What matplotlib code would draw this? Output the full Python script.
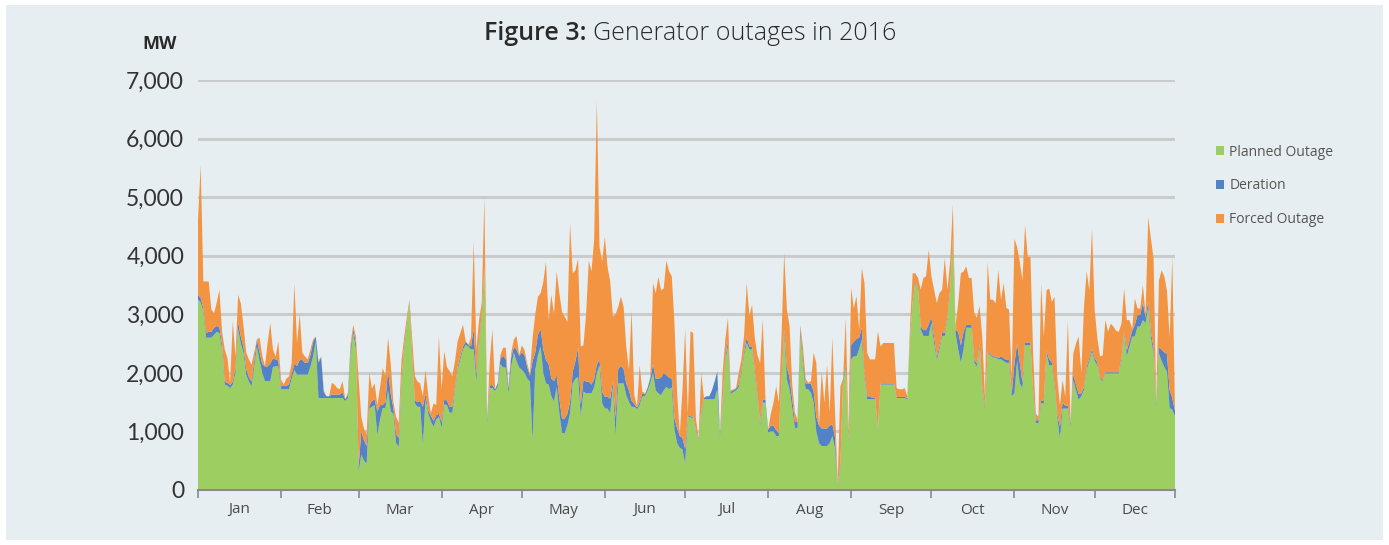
import matplotlib
matplotlib.use("Agg")
import matplotlib.pyplot as plt
from matplotlib.patches import Patch, Rectangle
import numpy as np

# daily values in MW, 2016 (366 days), one row per month
planned = (
    [3250, 3200, 3050, 2600, 2600, 2600, 2650, 2700, 2680, 2400, 1800, 1780, 1740, 1800, 2000, 2740, 2500, 2340, 1970, 1850, 1770, 2100, 2450, 2200, 2000, 1860, 1860, 1860, 2100, 2110, 2110]
    + [1720, 1720, 1720, 1720, 1900, 2050, 1970, 1970, 1970, 1970, 1970, 2100, 2280, 2540, 1570, 1570, 1570, 1570, 1570, 1570, 1570, 1570, 1570, 1570, 1520, 1570, 2300, 2680, 2400]
    + [300, 600, 500, 450, 1390, 1420, 1450, 940, 1200, 1400, 1400, 1700, 1340, 1300, 800, 740, 1820, 2400, 2800, 3210, 2270, 1480, 1420, 1420, 770, 1540, 1310, 1170, 1080, 1200, 1250]
    + [1060, 1460, 1450, 1320, 1320, 1700, 2050, 2230, 2400, 2480, 2450, 2400, 2400, 1860, 2500, 2960, 3760, 1120, 1740, 1740, 1690, 1770, 2150, 2090, 2090, 1650, 2110, 2340, 2200, 2090]
    + [2050, 2000, 1900, 1850, 850, 2050, 2300, 2450, 2000, 1820, 1800, 1600, 1510, 1760, 1310, 970, 970, 1100, 1310, 1820, 1900, 1930, 1250, 1680, 1650, 1650, 1650, 1750, 1990, 2130, 1480]
    + [1390, 1390, 1310, 1760, 940, 1820, 1820, 1820, 1620, 1500, 1420, 1420, 1380, 1450, 1600, 1600, 1700, 1830, 2000, 1700, 1650, 1620, 1700, 1760, 1720, 1750, 1030, 800, 720, 690]
    + [450, 1260, 1240, 1230, 1000, 860, 1300, 1550, 1550, 1550, 1550, 1550, 1720, 900, 1500, 2200, 2450, 1640, 1670, 1700, 1750, 2000, 2300, 2510, 2400, 2400, 2000, 1600, 1090, 1490, 1490]
    + [980, 1000, 1000, 920, 920, 1830, 2650, 1890, 1720, 1400, 1060, 1060, 2680, 2110, 1720, 1720, 1660, 1490, 1000, 800, 750, 750, 750, 800, 920, 700, 70, 410, 1830, 2090, 800]
    + [2230, 2280, 2280, 2400, 2570, 1910, 1550, 1550, 1550, 1550, 1030, 1800, 1800, 1800, 1800, 1800, 1800, 1570, 1570, 1570, 1570, 1550, 2600, 3200, 3530, 3420, 2740, 2630, 2630, 2630]
    + [2850, 2510, 2230, 2400, 2630, 2630, 2910, 3400, 4270, 2680, 2400, 2170, 2400, 2770, 2770, 2770, 2170, 2110, 2430, 1720, 1380, 2340, 2300, 2260, 2260, 2230, 2230, 2200, 2170, 2170, 1600]
    + [1650, 2200, 1820, 1740, 2470, 2470, 2470, 1650, 1140, 1140, 1480, 1480, 2330, 2130, 2130, 1760, 1250, 880, 1390, 1390, 1390, 1080, 1880, 1700, 1540, 1600, 1710, 2050, 2200, 2360]
    + [2200, 2130, 1900, 1850, 1990, 1990, 1990, 1990, 1990, 1990, 2200, 2670, 2280, 2450, 2620, 2620, 2790, 2790, 2900, 2850, 3130, 2600, 2330, 1420, 2330, 2200, 2100, 2020, 1400, 1370, 1260]
)

deration = (
    [80, 80, 50, 80, 100, 100, 120, 100, 100, 80, 50, 50, 50, 50, 80, 120, 120, 100, 100, 80, 80, 100, 120, 150, 150, 250, 250, 300, 150, 120, 100]
    + [50, 60, 60, 80, 80, 100, 150, 250, 250, 200, 200, 200, 250, 80, 600, 700, 100, 30, 30, 60, 60, 60, 60, 100, 30, 50, 100, 80, 100]
    + [100, 400, 350, 300, 50, 100, 100, 400, 250, 50, 100, 350, 300, 100, 150, 150, 50, 50, 30, 20, 50, 50, 80, 100, 650, 100, 50, 100, 100, 80, 50]
    + [100, 80, 80, 100, 100, 50, 50, 50, 50, 50, 30, 50, 350, 100, 50, 50, 50, 80, 50, 50, 30, 50, 100, 200, 150, 80, 150, 100, 200, 200]
    + [300, 300, 200, 100, 1350, 300, 350, 300, 400, 400, 350, 300, 350, 200, 250, 250, 250, 200, 200, 200, 300, 500, 200, 200, 200, 200, 150, 150, 150, 100, 200]
    + [200, 200, 250, 100, 300, 250, 300, 250, 200, 200, 100, 50, 30, 50, 50, 30, 50, 80, 150, 200, 250, 300, 300, 200, 200, 150, 200, 250, 200, 200]
    + [250, 20, 20, 20, 20, 20, 50, 20, 50, 50, 150, 300, 300, 50, 50, 50, 100, 40, 30, 30, 50, 50, 50, 100, 50, 50, 50, 50, 50, 50, 50]
    + [50, 100, 100, 100, 50, 50, 100, 200, 200, 150, 100, 100, 100, 100, 100, 100, 150, 200, 250, 300, 300, 300, 300, 300, 200, 200, 20, 50, 50, 50, 50]
    + [250, 250, 300, 200, 200, 50, 50, 50, 20, 20, 20, 20, 20, 20, 20, 20, 20, 20, 20, 20, 20, 20, 20, 20, 20, 20, 50, 100, 100, 200]
    + [100, 100, 50, 50, 50, 50, 50, 50, 50, 50, 300, 300, 300, 50, 50, 50, 50, 50, 50, 50, 50, 20, 20, 20, 20, 20, 50, 50, 50, 50, 50]
    + [500, 300, 350, 100, 50, 50, 50, 50, 50, 50, 50, 50, 50, 100, 50, 50, 50, 200, 100, 50, 50, 50, 100, 100, 100, 50, 50, 50, 50, 50]
    + [50, 50, 20, 20, 20, 20, 20, 20, 20, 20, 50, 50, 100, 100, 100, 200, 200, 200, 300, 100, 100, 100, 100, 50, 100, 200, 250, 300, 300, 200, 90]
)

forced = (
    [1270, 2270, 460, 880, 860, 380, 250, 400, 640, 220, 550, 420, 40, 1030, 200, 470, 570, 360, 280, 300, 290, 150, 0, 250, 150, 0, 400, 690, 150, 50, 330]
    + [120, 20, 120, 140, 190, 1380, 390, 780, 120, 110, 60, 100, 40, 0, 30, 10, 30, 0, 0, 200, 170, 110, 90, 190, 0, 40, 100, 60, 120]
    + [1500, 250, 200, 200, 560, 210, 270, 110, 300, 630, 450, 550, 520, 100, 300, 260, 330, 150, 120, 20, 280, 420, 350, 300, 180, 410, 260, 40, 300, 170, 1320]
    + [560, 830, 570, 610, 520, 450, 440, 400, 370, 10, 0, 150, 1490, 440, 350, 190, 1190, 0, 410, 950, 0, 10, 60, 140, 190, 20, 80, 130, 230, 20]
    + [120, 90, 60, 40, 400, 650, 650, 610, 1150, 1680, 750, 1430, 1150, 1770, 1800, 1820, 1740, 1570, 3040, 1680, 1550, 1520, 1000, 590, 1160, 2070, 1930, 2370, 4520, 1920, 2220]
    + [2730, 2220, 2000, 1100, 1760, 1060, 1180, 1060, 630, 350, 1550, 150, 10, 630, 30, 20, 0, 20, 1380, 1460, 1740, 1490, 1440, 1960, 1810, 1750, 1620, 610, 30, 830]
    + [2040, 20, 1450, 1430, 210, 0, 650, 10, 0, 0, 0, 0, 10, 0, 450, 320, 390, 20, 20, 10, 200, 180, 280, 920, 520, 710, 550, 650, 1030, 1370, 10]
    + [0, 200, 390, 750, 520, 750, 1300, 990, 880, 250, 160, 40, 40, 240, 80, 10, 50, 650, 920, 0, 980, 440, 1090, 220, 1480, 420, 60, 1310, 20, 800, 150]
    + [970, 570, 730, 140, 1020, 1570, 740, 630, 660, 660, 1660, 630, 690, 690, 690, 690, 690, 150, 130, 130, 150, 30, 180, 480, 150, 180, 630, 890, 920, 1270]
    + [700, 810, 910, 910, 740, 1280, 460, 450, 550, 70, 490, 1230, 1030, 1000, 800, 800, 800, 780, 660, 860, 170, 1540, 930, 970, 910, 1510, 970, 1280, 890, 860, 250]
    + [2140, 1650, 1730, 1740, 2000, 1460, 1460, 630, 110, 60, 2000, 1090, 1030, 1210, 1030, 1490, 630, 370, 390, 160, 1460, 10, 350, 700, 980, 350, 1370, 1630, 1160, 2060]
    + [820, 410, 360, 430, 890, 690, 830, 780, 710, 690, 590, 720, 520, 350, 30, 450, 110, 110, 300, 60, 1430, 1590, 1520, 30, 1150, 1350, 1300, 1080, 900, 2410, 0]
)

months = ['Jan', 'Feb', 'Mar', 'Apr', 'May', 'Jun', 'Jul', 'Aug', 'Sep', 'Oct', 'Nov', 'Dec']
month_start = [0, 31, 60, 91, 121, 152, 182, 213, 244, 274, 305, 335, 365]
series_names = ['Planned Outage', 'Deration', 'Forced Outage']
colors = ['#9dce61', '#5383c6', '#f39442']

days = np.arange(len(planned))

fig = plt.figure(figsize=(13.89, 5.45), dpi=100)
fig.patch.set_facecolor('white')
# light panel behind everything
fig.patches.append(Rectangle((6 / 1389, 5 / 545), 1377 / 1389, 535 / 545,
                             transform=fig.transFigure, facecolor='#e7eef1',
                             edgecolor='none', zorder=-10))

ax = fig.add_axes([198 / 1389, 1 - 490 / 545, 977 / 1389, 410 / 545])
ax.set_facecolor('none')

ax.stackplot(days, planned, deration, forced, colors=colors, linewidth=0, zorder=2)

ax.set_xlim(0, 365)
ax.set_ylim(0, 7000)
ax.set_yticks(range(0, 7001, 1000))
ax.set_yticklabels([f'{v:,}' for v in range(0, 7001, 1000)])
ax.grid(axis='y', color='#c9cbcc', linewidth=2.2, zorder=1)
ax.set_axisbelow(True)

ax.set_xticks(month_start)
ax.set_xticklabels([])
mids = [(month_start[i] + month_start[i + 1]) / 2 for i in range(12)]
ax.set_xticks(mids, minor=True)
ax.set_xticklabels(months, minor=True)
ax.tick_params(axis='x', which='major', length=6, width=1.2, color='#8a8a8a', direction='out')
ax.tick_params(axis='x', which='minor', length=0, pad=9, labelsize=11, labelcolor='#4a4a4a')
ax.tick_params(axis='y', length=0, pad=10, labelsize=16.5, labelcolor='#333333')
for lab in ax.get_xticklabels(minor=True):
    lab.set_family('Open Sans')
for lab in ax.get_yticklabels():
    lab.set_family('Lato')

for side in ['top', 'right', 'left']:
    ax.spines[side].set_visible(False)
ax.spines['bottom'].set_color('#8a8a8a')
ax.spines['bottom'].set_linewidth(1.5)
ax.spines['bottom'].set_zorder(3)

fig.text(160 / 1389, 1 - 44 / 545, 'MW', ha='center', va='center', fontsize=13,
         fontweight='bold', family='Open Sans', color='#2a2a2a')
fig.text(586 / 1389, 1 - 33 / 545, 'Figure 3:', ha='right', va='center', fontsize=18,
         fontweight='semibold', family='Open Sans', color='#2a2a2a')
fig.text(593 / 1389, 1 - 33 / 545, 'Generator outages in 2016', ha='left', va='center',
         fontsize=18, fontweight='light', family='Open Sans', color='#2a2a2a')

handles = [Patch(facecolor=c, edgecolor='none') for c in colors]
fig.legend(handles, series_names, loc='upper left', bbox_to_anchor=(1203 / 1389, 1 - 132 / 545),
           frameon=False, handlelength=0.6, handleheight=0.6, handletextpad=0.4,
           labelspacing=1.35, prop={'family': 'Open Sans', 'size': 10}, labelcolor='#555555')

fig.savefig('out.png', dpi=100, facecolor=fig.get_facecolor())
